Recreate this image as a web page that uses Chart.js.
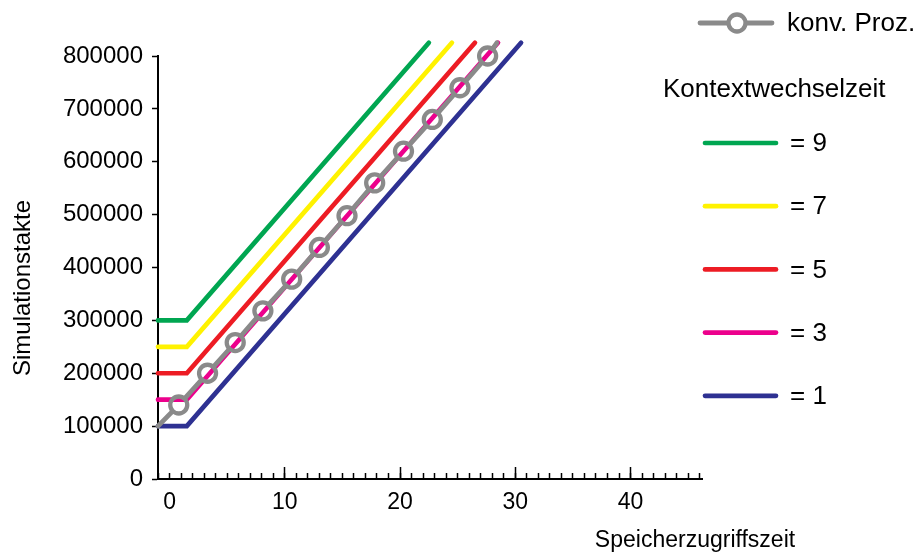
<!DOCTYPE html>
<html>
<head>
<meta charset="utf-8">
<script src="https://cdn.jsdelivr.net/npm/chart.js@4/dist/chart.umd.min.js"></script>
<style>
  html, body { margin: 0; padding: 0; background: #fff; }
  canvas { display: block; }
</style>
</head>
<body>
<canvas id="chart" width="919" height="555"></canvas>
<script>
// --- data ---
const kontextNames = ["= 9", "= 7", "= 5", "= 3", "= 1"];
const kontextColors = ["#00a651", "#fff200", "#ed1c24", "#ec008c", "#2e3192"];
const kontextStartX = [-1, -1, -1, -1, -1];
const kontextPlateau = [300000, 250000, 200000, 150000, 100000];
const kontextKneeX = [1.5, 1.5, 1.5, 1.5, 1.5];
const kontextEndX = [22.5, 24.5, 26.5, 28.5, 30.5];
const kontextEndY = [825000, 825000, 825000, 825000, 825000];

const konvName = "konv. Proz.";
const konvX = [-1, 0.8, 3.3, 5.7, 8.1, 10.6, 13.0, 15.4, 17.8, 20.3, 22.8, 25.2, 27.6, 28.4];
const konvY = [100000, 140000, 200000, 258000, 318000, 378000, 438000, 498000, 560000, 620000, 680000, 740000, 800000, 825000];

const xMin = -1, xMax = 46.2;
const yMin = 0, yMax = 800000;

const FAMILY = '"Liberation Sans", Arial, sans-serif';
const LEGEND_FONT = "26px " + FAMILY;
const TITLE_FONT = "23px " + FAMILY;
const GRAY = "#8a8a8a";
const RING_R = 8.5;
const RING_W = 4.3;

// gaps in the grey line where the rings are, so the magenta line shows inside
function konvDash(ctx) {
    const xs = ctx.chart.scales.x, ys = ctx.chart.scales.y;
    if (!xs || !ys) return [];
    const pts = konvX.map((x, i) => [xs.getPixelForValue(x), ys.getPixelForValue(konvY[i])]);
    const len = [0];
    let s = 0;
    for (let i = 1; i < pts.length; i++) {
        s += Math.hypot(pts[i][0] - pts[i - 1][0], pts[i][1] - pts[i - 1][1]);
        len.push(s);
    }
    const gap = 10;
    const dash = [];
    let pos = 0;
    for (let i = 1; i < pts.length - 1; i++) {
        dash.push(Math.max(0.1, len[i] - gap - pos), 2 * gap);
        pos = len[i] + gap;
    }
    dash.push(Math.max(0.1, s - pos + 5), 2000);
    return dash;
}

const datasets = [{
    label: konvName,
    data: konvX.map((x, i) => ({ x: x, y: konvY[i] })),
    borderColor: GRAY,
    borderWidth: 4.8,
    borderCapStyle: "round",
    borderDash: konvDash,
    pointRadius: ctx => (ctx.dataIndex === 0 || ctx.dataIndex === konvX.length - 1) ? 0 : RING_R,
    pointBorderWidth: RING_W,
    pointBorderColor: GRAY,
    pointBackgroundColor: "rgba(0,0,0,0)",
    clip: false,
    order: 0
}];

kontextNames.forEach((name, i) => {
    datasets.push({
        label: name,
        data: [
            { x: kontextStartX[i], y: kontextPlateau[i] },
            { x: kontextKneeX[i], y: kontextPlateau[i] },
            { x: kontextEndX[i], y: kontextEndY[i] }
        ],
        borderColor: kontextColors[i],
        borderWidth: 4.7,
        borderCapStyle: "round",
        borderJoinStyle: "miter",
        pointRadius: 0,
        clip: false,
        order: 1 + i
    });
});

const sideLegend = {
    id: "sideLegend",
    afterDraw(chart) {
        const c = chart.ctx;
        c.save();
        c.font = LEGEND_FONT;
        c.textBaseline = "middle";
        c.textAlign = "left";
        c.lineCap = "round";

        // konv. Proz.
        c.strokeStyle = GRAY;
        c.lineWidth = 4.8;
        c.beginPath(); c.moveTo(700, 23); c.lineTo(772, 23); c.stroke();
        c.beginPath(); c.arc(737, 23, RING_R, 0, Math.PI * 2);
        c.fillStyle = "#fff"; c.fill();
        c.lineWidth = RING_W; c.stroke();
        c.fillStyle = "#000";
        c.fillText(konvName, 787, 24);

        c.fillText("Kontextwechselzeit", 663, 90);

        kontextNames.forEach((name, i) => {
            const y = 143 + i * 63.2;
            c.strokeStyle = kontextColors[i];
            c.lineWidth = 4.7;
            c.beginPath(); c.moveTo(705, y); c.lineTo(776, y); c.stroke();
            c.fillStyle = "#000";
            c.fillText(name, 790, y + 1);
        });

        // axis titles
        c.font = TITLE_FONT;
        c.textAlign = "center";
        c.fillText("Speicherzugriffszeit", 695, 541);
        c.font = "24px " + FAMILY;
        c.translate(23, 288);
        c.rotate(-Math.PI / 2);
        c.fillText("Simulationstakte", 0, 0);
        c.restore();
    }
};

new Chart(document.getElementById("chart"), {
    type: "line",
    data: { datasets: datasets },
    plugins: [sideLegend],
    options: {
        responsive: false,
        animation: false,
        layout: { padding: { top: 56, right: 217, left: 0, bottom: 0 } },
        plugins: { legend: { display: false }, tooltip: { enabled: false } },
        scales: {
            x: {
                type: "linear",
                min: xMin,
                max: xMax,
                afterFit: s => { s.height = 76; },
                border: { display: true, color: "#000", width: 2 },
                grid: {
                    drawOnChartArea: false,
                    drawTicks: true,
                    tickLength: -12,
                    tickWidth: 1.5,
                    tickColor: ctx => (ctx.tick && ctx.tick.value === 0) ? "rgba(0,0,0,0)" : "#000"
                },
                ticks: {
                    stepSize: 10,
                    includeBounds: false,
                    autoSkip: false,
                    maxRotation: 0,
                    padding: 22,
                    color: "#000",
                    callback: v => String(v),
                    font: { family: FAMILY, size: 23 }
                }
            },
            xm: {
                type: "linear",
                position: { y: 0 },
                min: xMin,
                max: xMax,
                border: { display: false },
                grid: {
                    drawOnChartArea: false,
                    drawTicks: true,
                    tickLength: -6,
                    tickWidth: 1.5,
                    tickColor: "#000"
                },
                ticks: {
                    display: false,
                    stepSize: 1,
                    includeBounds: false,
                    autoSkip: false
                }
            },
            y: {
                type: "linear",
                min: yMin,
                max: yMax,
                afterFit: s => { s.width = 158; },
                border: { display: true, color: "#000", width: 2 },
                grid: {
                    drawOnChartArea: false,
                    drawTicks: true,
                    tickLength: 6,
                    tickWidth: 1.5,
                    tickColor: "#000"
                },
                ticks: {
                    stepSize: 100000,
                    padding: 9,
                    color: "#000",
                    callback: v => String(v),
                    font: { family: FAMILY, size: 24 }
                }
            }
        }
    }
});
</script>
</body>
</html>
